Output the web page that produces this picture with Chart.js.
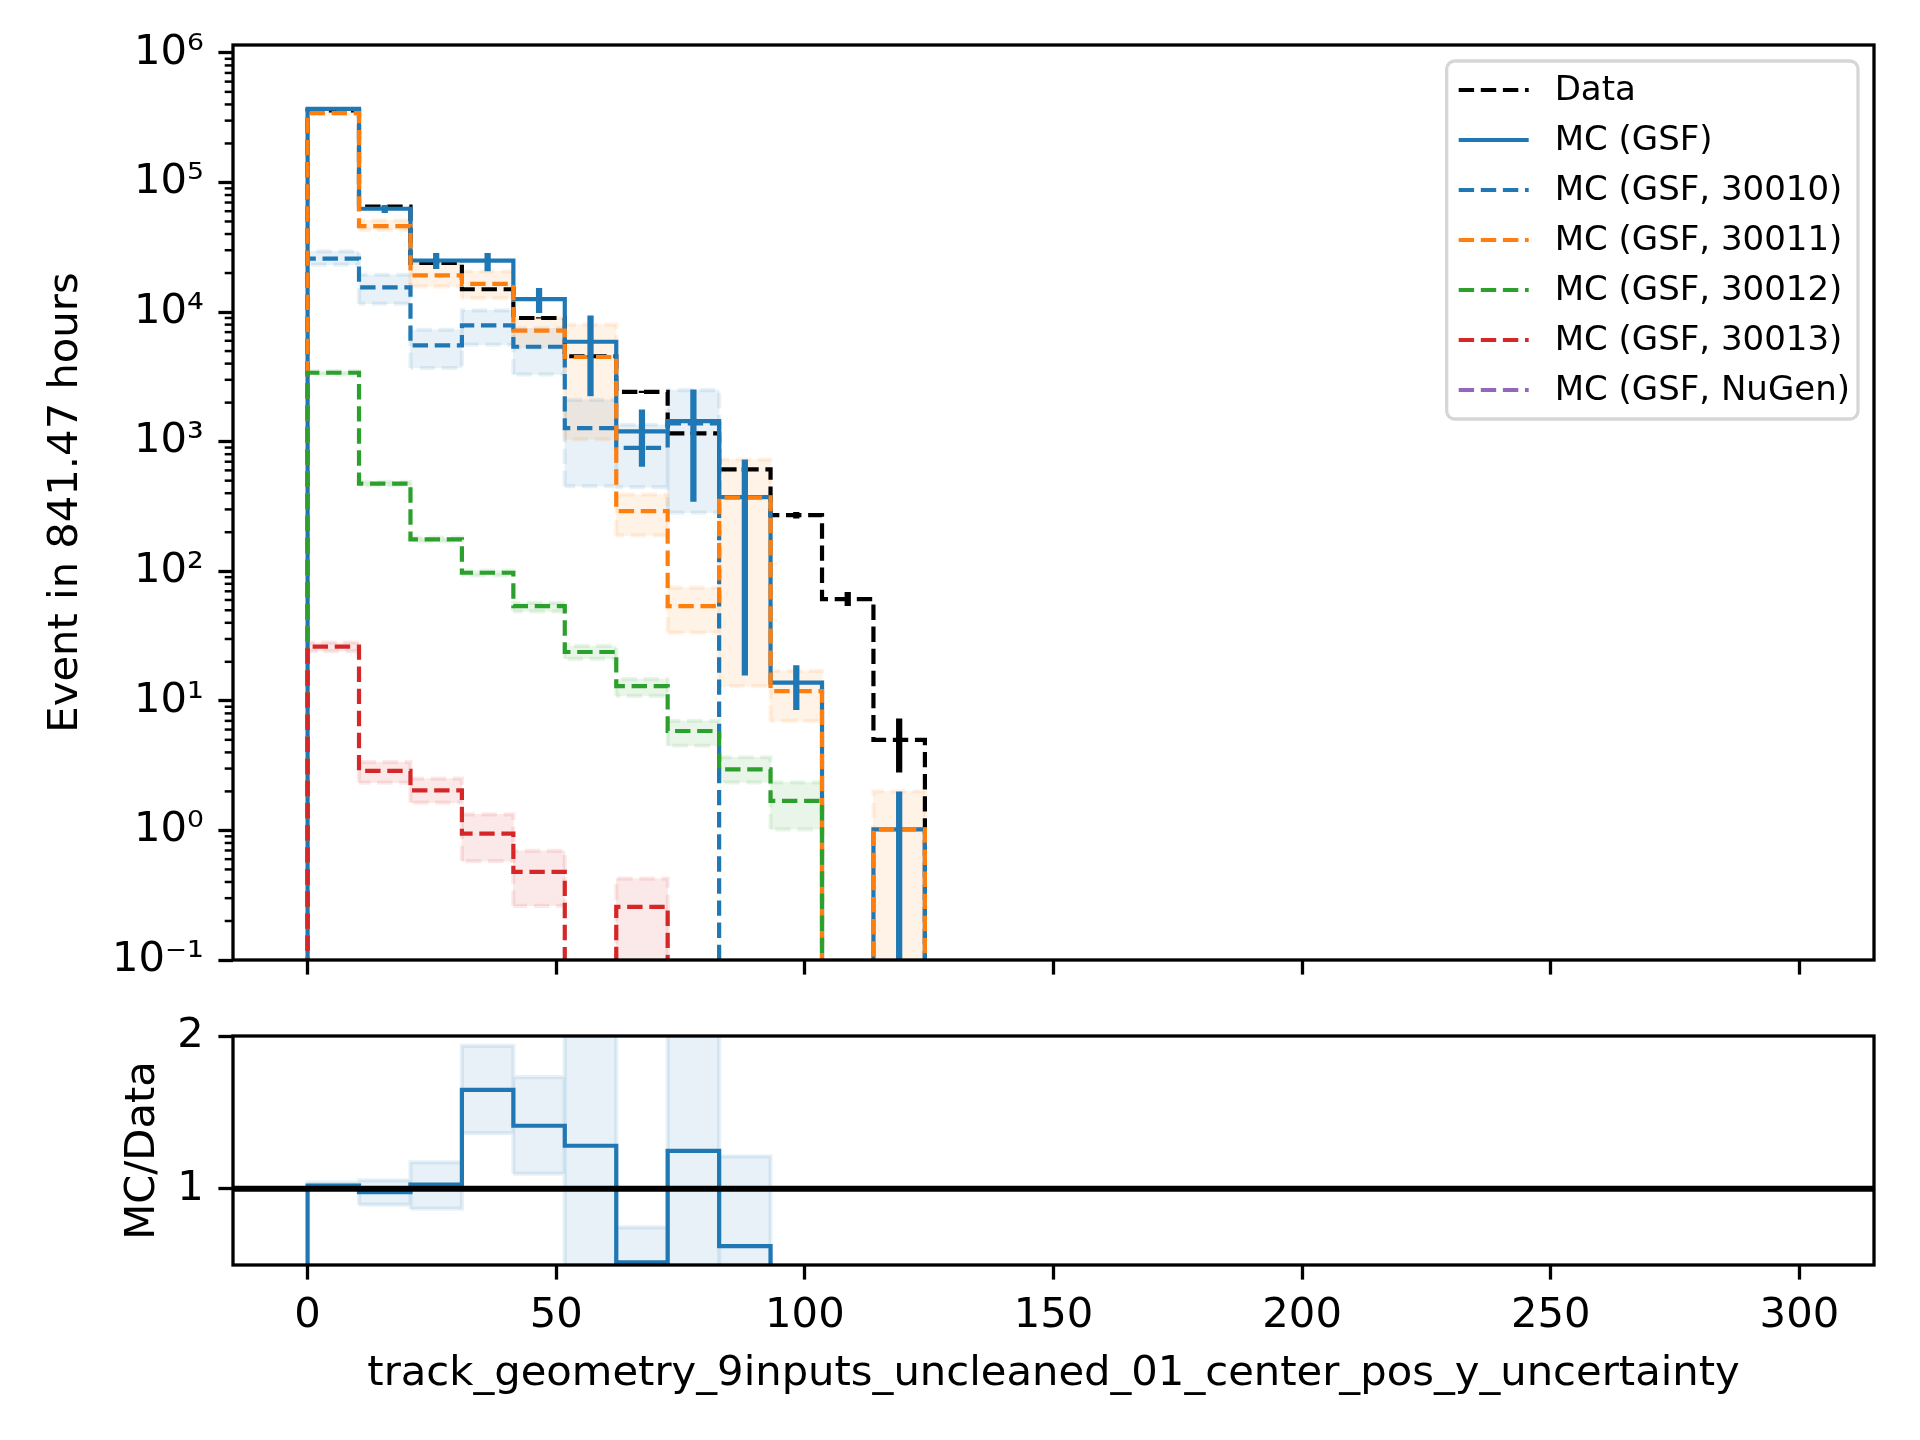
<!DOCTYPE html>
<html>
<head>
<meta charset="utf-8">
<script src="https://cdn.jsdelivr.net/npm/chart.js@4.4.1/dist/chart.umd.min.js"></script>
<style>
  html, body { margin: 0; padding: 0; background: #fff; }
  #wrap { position: relative; width: 1920px; height: 1440px; }
  #main { position: absolute; left: 0; top: 0; }
  #ratio { position: absolute; left: 0; top: 990px; }
</style>
</head>
<body>
<div id="wrap">
  <canvas id="main" width="1920" height="1000" style="width:1920px;height:1000px"></canvas>
  <canvas id="ratio" width="1920" height="450" style="width:1920px;height:450px"></canvas>
</div>
<script>
// binning (29 bins between 0 and 300)
const BIN_EDGES = [0, 10.34, 20.69, 31.03, 41.38, 51.72, 62.07, 72.41, 82.76, 93.10,
    103.45, 113.79, 124.14, 134.48, 144.83, 155.17, 165.52, 175.86, 186.21, 196.55,
    206.90, 217.24, 227.59, 237.93, 248.28, 258.62, 268.97, 279.31, 289.66, 300];

// axes
const X_MIN = -15, X_MAX = 315;
const X_TICKS = [0, 50, 100, 150, 200, 250, 300];
const Y_MIN = 0.1, Y_MAX = 1.15e6;
const Y_TICKS = [1e-1, 1e0, 1e1, 1e2, 1e3, 1e4, 1e5, 1e6];
const Y_TICK_LABELS = ['10⁻¹', '10⁰', '10¹', '10²', '10³', '10⁴', '10⁵', '10⁶'];
const R_MIN = 0.5, R_MAX = 2;
const R_TICKS = [1, 2];
const R_TICK_LABELS = ['1', '2'];

// labels
const SERIES_LABELS = ['Data', 'MC (GSF)', 'MC (GSF, 30010)', 'MC (GSF, 30011)',
    'MC (GSF, 30012)', 'MC (GSF, 30013)', 'MC (GSF, NuGen)'];
const X_TITLE = 'track_geometry_9inputs_uncleaned_01_center_pos_y_uncertainty';
const Y_TITLE = 'Event in 841.47 hours';
const R_TITLE = 'MC/Data';

// bin contents (bins not listed are empty)
const DATA     = [3.6e5, 6.5e4, 2.39e4, 1.5e4, 9.0e3, 4.56e3, 2.42e3, 1.16e3, 610, 271, 61, 5];
const MC_GSF   = [3.7e5, 6.27e4, 2.5e4, 2.49e4, 1.26e4, 5.9e3, 1.2e3, 1.44e3, 373, 13.8, 0, 1.02];
const MC_30010 = [2.58e4, 1.55e4, 5.53e3, 7.9e3, 5.4e3, 1.27e3, 896, 1.38e3];
const MC_30011 = [3.43e5, 4.6e4, 1.92e4, 1.65e4, 7.2e3, 4.5e3, 291, 53.8, 370, 11.9, 0, 1.02];
const MC_30012 = [3.4e3, 475, 176, 97.3, 53.8, 23.8, 13, 5.85, 2.96, 1.69];
const MC_30013 = [26.2, 2.88, 2.04, 0.946, 0.479, 0, 0.257];
const MC_NUGEN = [];

// error bars
const DATA_ERR_LO = [3.59e5, 6.47e4, 2.37e4, 1.49e4, 8.9e3, 4.49e3, 2.37e3, 1.13e3, 585, 255, 54, 2.8];
const DATA_ERR_HI = [3.61e5, 6.53e4, 2.41e4, 1.51e4, 9.1e3, 4.63e3, 2.47e3, 1.19e3, 635, 287, 69, 7.3];
const MC_ERR_LO = [3.68e5, 5.8e4, 2.15e4, 2.06e4, 9.85e3, 2.24e3, 640, 344, 15.7, 8.5, null, 0];
const MC_ERR_HI = [3.72e5, 6.7e4, 2.86e4, 2.86e4, 1.53e4, 9.4e3, 1.77e3, 2.52e3, 728, 18.8, null, 2.0];

// uncertainty bands
const BAND_30010_LO = [2.32e4, 1.16e4, 3.7e3, 5.6e3, 3.3e3, 453, 446, 283];
const BAND_30010_HI = [2.94e4, 1.94e4, 7.3e3, 1.03e4, 7.5e3, 2.1e3, 1.35e3, 2.5e3];
const BAND_30011_LO = [3.38e5, 4.3e4, 1.58e4, 1.28e4, 5.3e3, 1.04e3, 189, 33.6, 13, 7, null, 0];
const BAND_30011_HI = [3.48e5, 5.1e4, 2.39e4, 2.06e4, 9.0e3, 8.0e3, 391, 74.6, 728, 17, null, 2.0];
const BAND_30012_LO = [3.3e3, 460, 170, 93, 49, 21.1, 10.9, 4.5, 2.35, 1.02];
const BAND_30012_HI = [3.5e3, 490, 182, 101, 57, 26.5, 14.7, 7.0, 3.67, 2.35];
const BAND_30013_LO = [24.2, 2.34, 1.64, 0.58, 0.262, null, 0.09];
const BAND_30013_HI = [28.1, 3.37, 2.51, 1.33, 0.695, null, 0.425];

// ratio panel
const RATIO    = [1.02, 0.978, 1.026, 1.647, 1.412, 1.281, 0.518, 1.248, 0.623, 0.05, 0, 0.2];
const RATIO_LO = [1.0, 0.895, 0.869, 1.364, 1.098, 0.3, 0.29, 0.1, 0.1];
const RATIO_HI = [1.04, 1.054, 1.172, 1.935, 1.73, 2.3, 0.747, 2.4, 1.211];

// styles
const FAMILY = "'DejaVu Sans', sans-serif";
const FS = 41.7, LEG_FS = 34;
const LW = 4.2, ERR_LW = 6.25;
const DASH = [15.4, 6.7];
const FLOOR = 1e-4;
const C0 = '#1f77b4', C1 = '#ff7f0e', C2 = '#2ca02c', C3 = '#d62728', C4 = '#9467bd';

function rgba(hex, a) {
    const n = parseInt(hex.slice(1), 16);
    return `rgba(${n >> 16},${(n >> 8) & 255},${n & 255},${a})`;
}

function stepPoints(vals, floor) {
    const pts = [{ x: BIN_EDGES[0], y: floor }];
    for (let i = 0; i < BIN_EDGES.length - 1; i++) {
        const v = vals[i] > 0 ? vals[i] : floor;
        pts.push({ x: BIN_EDGES[i], y: v }, { x: BIN_EDGES[i + 1], y: v });
    }
    pts.push({ x: BIN_EDGES[BIN_EDGES.length - 1], y: floor });
    return pts;
}

function centre(i) { return (BIN_EDGES[i] + BIN_EDGES[i + 1]) / 2; }

function errorPoints(lo, hi, floor) {
    const pts = [];
    lo.forEach((l, i) => {
        if (l == null || hi[i] == null) return;
        pts.push({ x: centre(i), y: Math.max(l, floor) }, { x: centre(i), y: hi[i] }, { x: centre(i), y: null });
    });
    return pts;
}

function bandBars(lo, hi, floor) {
    const out = [];
    lo.forEach((l, i) => {
        if (l == null || hi[i] == null) return;
        out.push({ x: centre(i), y: [Math.max(l, floor), hi[i]] });
    });
    return out;
}

function bandOutline(lo, hi, floor) {
    const pts = [];
    lo.forEach((l, i) => {
        if (l == null || hi[i] == null) return;
        const a = BIN_EDGES[i], b = BIN_EDGES[i + 1], l2 = Math.max(l, floor);
        pts.push({ x: a, y: l2 }, { x: a, y: hi[i] }, { x: b, y: hi[i] }, { x: b, y: l2 }, { x: a, y: l2 }, { x: a, y: null });
    });
    return pts;
}

function stepLine(label, vals, color, dash, order, floor) {
    return {
        type: 'line', label, legendText: label, data: stepPoints(vals, floor),
        borderColor: color, borderWidth: LW, borderDash: dash, pointRadius: 0,
        fill: false, tension: 0, order, clip: 0
    };
}

function errLine(lo, hi, color, order, floor) {
    return {
        type: 'line', data: errorPoints(lo, hi, floor), borderColor: color,
        borderWidth: ERR_LW, pointRadius: 0, spanGaps: false, order, clip: 0
    };
}

function bandFill(lo, hi, color, order, floor) {
    return {
        type: 'bar', data: bandBars(lo, hi, floor), backgroundColor: rgba(color, 0.1),
        borderWidth: 0, grouped: false, barPercentage: 1, categoryPercentage: 1, order, clip: 0
    };
}

function bandEdge(lo, hi, color, dash, order, floor) {
    return {
        type: 'line', data: bandOutline(lo, hi, floor), borderColor: rgba(color, 0.1),
        borderWidth: LW, borderDash: dash, pointRadius: 0, spanGaps: false, order, clip: 0
    };
}

// frame around the plot area
const framePlugin = {
    id: 'frame',
    afterDatasetsDraw(chart) {
        const { ctx, chartArea: a } = chart;
        ctx.save();
        ctx.strokeStyle = '#000';
        ctx.lineWidth = 3.3;
        ctx.strokeRect(a.left, a.top, a.right - a.left, a.bottom - a.top);
        ctx.restore();
    }
};

// minor ticks of the log axis
const minorTickPlugin = {
    id: 'minorTicks',
    afterDraw(chart) {
        const s = chart.scales.y, ctx = chart.ctx;
        ctx.save();
        ctx.strokeStyle = '#000';
        ctx.lineWidth = 2.5;
        Y_TICKS.forEach(t => {
            for (let m = 2; m <= 9; m++) {
                const v = t * m;
                if (v > s.max) continue;
                const py = s.getPixelForValue(v);
                ctx.beginPath();
                ctx.moveTo(s.right - 8.3, py);
                ctx.lineTo(s.right, py);
                ctx.stroke();
            }
        });
        ctx.restore();
    }
};

// boxed legend in the upper right corner
const legendPlugin = {
    id: 'boxLegend',
    afterDraw(chart) {
        const { ctx, chartArea } = chart;
        const items = chart.data.datasets.filter(d => d.legendText);
        ctx.save();
        ctx.font = `${LEG_FS}px ${FAMILY}`;
        const textW = Math.max(...items.map(d => ctx.measureText(d.legendText).width));
        const padL = 12, handle = 70, gap = 26, padR = 8, rowH = 50;
        const w = padL + handle + gap + textW + padR;
        const h = items.length * rowH + 8;
        const x1 = chartArea.right - 16, y0 = chartArea.top + 16, x0 = x1 - w;
        ctx.beginPath();
        ctx.roundRect(x0, y0, w, h, 8);
        ctx.fillStyle = 'rgba(255,255,255,0.8)';
        ctx.fill();
        ctx.strokeStyle = '#d6d6d6';
        ctx.lineWidth = 3.3;
        ctx.stroke();
        items.forEach((d, k) => {
            const cy = y0 + 30 + k * rowH;
            ctx.beginPath();
            ctx.setLineDash(d.borderDash || []);
            ctx.strokeStyle = d.borderColor;
            ctx.lineWidth = d.borderWidth;
            ctx.moveTo(x0 + padL, cy - 1);
            ctx.lineTo(x0 + padL + handle, cy - 1);
            ctx.stroke();
            ctx.setLineDash([]);
            ctx.fillStyle = '#000';
            ctx.textBaseline = 'middle';
            ctx.textAlign = 'left';
            ctx.fillText(d.legendText, x0 + padL + handle + gap, cy);
        });
        ctx.restore();
    }
};

const font = { family: FAMILY, size: FS };
const tickGrid = { drawOnChartArea: false, offset: false, tickLength: 14.6, tickWidth: 3.3, tickColor: '#000' };

const mainDatasets = [
    stepLine(SERIES_LABELS[0], DATA, '#000000', DASH, 16, FLOOR),
    stepLine(SERIES_LABELS[1], MC_GSF, C0, [], 15, FLOOR),
    stepLine(SERIES_LABELS[2], MC_30010, C0, DASH, 14, FLOOR),
    stepLine(SERIES_LABELS[3], MC_30011, C1, DASH, 13, FLOOR),
    stepLine(SERIES_LABELS[4], MC_30012, C2, DASH, 12, FLOOR),
    stepLine(SERIES_LABELS[5], MC_30013, C3, DASH, 11, FLOOR),
    stepLine(SERIES_LABELS[6], MC_NUGEN, C4, DASH, 10, FLOOR),
    bandFill(BAND_30010_LO, BAND_30010_HI, C0, 40, FLOOR),
    bandEdge(BAND_30010_LO, BAND_30010_HI, C0, DASH, 39, FLOOR),
    bandFill(BAND_30011_LO, BAND_30011_HI, C1, 38, FLOOR),
    bandEdge(BAND_30011_LO, BAND_30011_HI, C1, DASH, 37, FLOOR),
    bandFill(BAND_30012_LO, BAND_30012_HI, C2, 36, FLOOR),
    bandEdge(BAND_30012_LO, BAND_30012_HI, C2, DASH, 35, FLOOR),
    bandFill(BAND_30013_LO, BAND_30013_HI, C3, 34, FLOOR),
    bandEdge(BAND_30013_LO, BAND_30013_HI, C3, DASH, 33, FLOOR),
    errLine(DATA_ERR_LO, DATA_ERR_HI, '#000000', 2, FLOOR),
    errLine(MC_ERR_LO, MC_ERR_HI, C0, 1, FLOOR)
];

new Chart(document.getElementById('main'), {
    type: 'line',
    data: { datasets: mainDatasets },
    plugins: [framePlugin, minorTickPlugin, legendPlugin],
    options: {
        responsive: false,
        animation: false,
        devicePixelRatio: 1,
        events: [],
        layout: { padding: { left: 41, right: 46, top: 45, bottom: 20 } },
        plugins: { legend: { display: false }, tooltip: { enabled: false } },
        scales: {
            x: {
                type: 'linear', min: X_MIN, max: X_MAX, offset: false,
                afterBuildTicks: s => { s.ticks = X_TICKS.map(v => ({ value: v })); },
                ticks: { display: false },
                grid: tickGrid,
                border: { display: false },
                afterFit: s => { s.height = 20; }
            },
            y: {
                type: 'logarithmic', min: Y_MIN, max: Y_MAX,
                afterBuildTicks: s => { s.ticks = Y_TICKS.map(v => ({ value: v })); },
                ticks: {
                    font, color: '#000', padding: 14.6, autoSkip: false,
                    callback: v => Y_TICK_LABELS[Y_TICKS.findIndex(t => Math.abs(t - v) / t < 1e-6)]
                },
                grid: tickGrid,
                border: { display: false },
                title: { display: true, text: Y_TITLE, font, color: '#000', padding: 0 },
                afterFit: s => { s.width = 192; }
            }
        }
    }
});

const ratioDatasets = [
    {
        type: 'line', data: [{ x: X_MIN, y: 1 }, { x: X_MAX, y: 1 }], borderColor: '#000',
        borderWidth: 6, pointRadius: 0, order: 0, clip: 0
    },
    stepLine('ratio', RATIO, C0, [], 5, 0),
    bandFill(RATIO_LO, RATIO_HI, C0, 20, 0),
    bandEdge(RATIO_LO, RATIO_HI, C0, [], 19, 0)
];

new Chart(document.getElementById('ratio'), {
    type: 'line',
    data: { datasets: ratioDatasets },
    plugins: [framePlugin],
    options: {
        responsive: false,
        animation: false,
        devicePixelRatio: 1,
        events: [],
        layout: { padding: { left: 118, right: 46, top: 46, bottom: 41 } },
        plugins: { legend: { display: false }, tooltip: { enabled: false } },
        scales: {
            x: {
                type: 'linear', min: X_MIN, max: X_MAX, offset: false,
                afterBuildTicks: s => { s.ticks = X_TICKS.map(v => ({ value: v })); },
                ticks: { font, color: '#000', padding: 12, maxRotation: 0, autoSkip: false },
                grid: tickGrid,
                border: { display: false },
                title: { display: true, text: X_TITLE, font, color: '#000', padding: 0 },
                afterFit: s => { s.height = 134; }
            },
            y: {
                type: 'linear', min: R_MIN, max: R_MAX,
                afterBuildTicks: s => { s.ticks = R_TICKS.map(v => ({ value: v })); },
                ticks: {
                    font, color: '#000', padding: 14.6, autoSkip: false,
                    callback: v => R_TICK_LABELS[R_TICKS.indexOf(v)]
                },
                grid: tickGrid,
                border: { display: false },
                title: { display: true, text: R_TITLE, font, color: '#000', padding: 0 },
                afterFit: s => { s.width = 115; }
            }
        }
    }
});
</script>
</body>
</html>
